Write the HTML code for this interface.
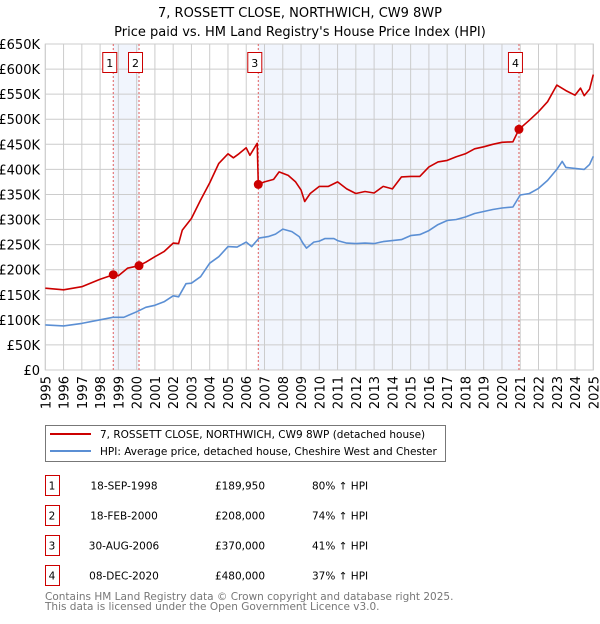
<!DOCTYPE html>
<html><head><meta charset="utf-8"><style>
body{margin:0;background:#fff;font-family:"DejaVu Sans","Liberation Sans",sans-serif;}
svg text{font-family:"DejaVu Sans","Liberation Sans",sans-serif;}
</style></head><body>
<svg id="c" width="600" height="620" xmlns="http://www.w3.org/2000/svg">
<text x="300" y="17" text-anchor="middle" font-size="13">7, ROSSETT CLOSE, NORTHWICH, CW9 8WP</text>
<text x="300" y="36" text-anchor="middle" font-size="13">Price paid vs. HM Land Registry's House Price Index (HPI)</text>
<g id="plot"></g>
<g>
<rect x="45.5" y="425.5" width="400" height="36" fill="#fff" stroke="#777"/>
<line x1="50" y1="434" x2="91" y2="434" stroke="#cc0000" stroke-width="2"/>
<text x="100" y="438" font-size="10.5">7, ROSSETT CLOSE, NORTHWICH, CW9 8WP (detached house)</text>
<line x1="50" y1="451" x2="91" y2="451" stroke="#5b8fd4" stroke-width="2"/>
<text x="100" y="455" font-size="10.5">HPI: Average price, detached house, Cheshire West and Chester</text>
</g>
<g id="table"></g>
<text x="45" y="600" font-size="10.5" fill="#777">Contains HM Land Registry data © Crown copyright and database right 2025.</text>
<text x="45" y="610" font-size="10.5" fill="#777">This data is licensed under the Open Government Licence v3.0.</text>
</svg>
<script>
const hpiYears=[1995,1996,1997,1998,1998.7,1999.3,2000,2000.5,2001,2001.5,2002,2002.3,2002.7,2003,2003.5,2004,2004.5,2005,2005.5,2006,2006.3,2006.7,2007.2,2007.6,2008,2008.5,2008.9,2009.1,2009.3,2009.7,2010,2010.3,2010.8,2011,2011.5,2012,2012.5,2013,2013.5,2014,2014.5,2015,2015.5,2016,2016.5,2017,2017.5,2018,2018.5,2019,2019.5,2020,2020.6,2021,2021.5,2022,2022.5,2023,2023.3,2023.5,2024,2024.5,2024.8,2025];
const hpiValues=[90,88,93,100,105,105,116,125,129,136,148,146,172,173,186,213,226,246,245,255,246,263,266,271,281,276,266,253,243,255,257,262,262,258,253,252,253,252,256,258,260,268,270,278,290,298,300,305,312,316,320,323,325,349,352,362,378,400,416,404,402,400,410,426];
const propYears=[1995,1996,1997,1998,1998.72,1999,1999.5,2000.13,2000.5,2001,2001.5,2002,2002.3,2002.5,2003,2003.5,2004,2004.5,2005,2005.3,2005.6,2006,2006.2,2006.6,2006.66,2007,2007.5,2007.8,2008.3,2008.7,2009,2009.2,2009.5,2010,2010.5,2011,2011.5,2012,2012.5,2013,2013.5,2014,2014.5,2015,2015.5,2016,2016.5,2017,2017.5,2018,2018.5,2019,2019.5,2020,2020.6,2020.93,2021.5,2022,2022.5,2023,2023.5,2024,2024.3,2024.5,2024.8,2025];
const propValues=[163,160,166,181,190,188,203,208,215,226,236,253,252,279,302,339,373,412,431,423,431,443,428,452,370,375,380,395,388,375,359,336,352,366,366,375,361,352,356,353,366,361,385,386,386,405,415,418,425,431,441,445,450,454,455,480,498,515,535,568,557,548,562,547,560,589];
const saleYears=[1998.72,2000.13,2006.66,2020.93];
const saleValues=[189.95,208,370,480];
const saleDates=["18-SEP-1998","18-FEB-2000","30-AUG-2006","08-DEC-2020"];
const salePrices=["£189,950","£208,000","£370,000","£480,000"];
const salePcts=["80% ↑ HPI","74% ↑ HPI","41% ↑ HPI","37% ↑ HPI"];
const yTicks=[0,50,100,150,200,250,300,350,400,450,500,550,600,650];
const yTickLabels=["£0","£50K","£100K","£150K","£200K","£250K","£300K","£350K","£400K","£450K","£500K","£550K","£600K","£650K"];
const xTicks=[1995,1996,1997,1998,1999,2000,2001,2002,2003,2004,2005,2006,2007,2008,2009,2010,2011,2012,2013,2014,2015,2016,2017,2018,2019,2020,2021,2022,2023,2024,2025];

const L=45.3,R=593.3,T=44,B=370;
const X=y=>L+(y-1995)/30*(R-L);
const Y=v=>B-v/650*(B-T);
const NS="http://www.w3.org/2000/svg";
const plot=document.getElementById('plot');
function mk(tag,attrs,parent){const e=document.createElementNS(NS,tag);for(const k in attrs)e.setAttribute(k,attrs[k]);(parent||plot).appendChild(e);return e;}
for(const [a,b] of [[0,1],[2,3]]){
 const r=mk('rect',{x:X(saleYears[a]),y:T,width:X(saleYears[b])-X(saleYears[a]),height:B-T,fill:'#eef3fc',opacity:0.8});
 
 
}
yTicks.forEach((v,i)=>{
 const g=mk('line',{x1:L,x2:R,y1:Y(v),y2:Y(v),stroke:'#cccccc','stroke-width':1});
 
 
 const t=mk('text',{x:40,y:Y(v)+5,'text-anchor':'end','font-size':13});
 
 
 t.textContent=yTickLabels[i];
});
xTicks.forEach(yr=>{
 const g=mk('line',{x1:X(yr),x2:X(yr),y1:T,y2:B,stroke:'#cccccc','stroke-width':1});
 
 
 const t=mk('text',{x:0,y:0,'text-anchor':'end','font-size':13,transform:`translate(${X(yr)+5},376) rotate(-90)`});
 
 
 t.textContent=yr;
});
const fr=mk('rect',{x:L,y:T,width:R-L,height:B-T,fill:'none',stroke:'#cccccc'});


saleYears.forEach((yr,i)=>{
 const l=mk('line',{x1:X(yr),x2:X(yr),y1:T,y2:B,stroke:'#e06060','stroke-width':1,'stroke-dasharray':'2,2'});
 
 
 const b=mk('rect',{x:X(yr)-10.5,y:52.5,width:14,height:20,fill:'#fff',stroke:'#cc0000'});
 
 
 const t=mk('text',{x:X(yr)-3.5,y:67,'text-anchor':'middle','font-size':11});
 
 
 t.textContent=i+1;
});
function path(xs,vs,color,name){
 const d=xs.map((x,i)=>(i?'L':'M')+X(x).toFixed(1)+','+Y(vs[i]).toFixed(1)).join('');
 const p=mk('path',{d:d,fill:'none',stroke:color,'stroke-width':1.6,'stroke-linejoin':'round'});
 
 
}
path(hpiYears,hpiValues,'#5b8fd4','hpi-line');
path(propYears,propValues,'#cc0000','property-price-line');
saleYears.forEach((yr,i)=>{
 const c=mk('circle',{cx:X(yr),cy:Y(saleValues[i]),r:4.5,fill:'#cc0000'});
 
 
});
const tbl=document.getElementById('table');
saleDates.forEach((d,i)=>{
 const y0=475.5+i*30;
 const b=mk('rect',{x:45.5,y:y0,width:14,height:20,fill:'#fff',stroke:'#cc0000'},tbl);
 
 
 const cells=[[52,String(i+1),'middle'],[124,d,'middle'],[240,salePrices[i],'middle'],[312,salePcts[i],'start']];
 cells.forEach(([x,s,a])=>{
  const t=mk('text',{x:x,y:y0+14,'text-anchor':a,'font-size':10.5},tbl);
  
  
  t.textContent=s;
 });
});
</script>
</body></html>
